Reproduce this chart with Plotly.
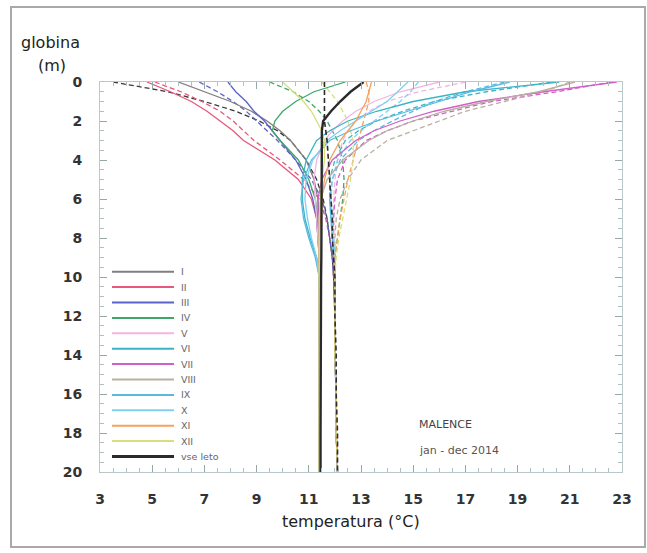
import plotly.graph_objects as go

# ---------------- data ----------------
DEPTH = [0, 0.5, 1, 1.5, 2, 2.5, 3, 4, 5, 6, 7, 8, 9, 10, 12, 14, 16, 18, 20]

MONTHS = ["I", "II", "III", "IV", "V", "VI", "VII", "VIII", "IX", "X", "XI", "XII"]
COLORS = ["#7f7f7f", "#e8587a", "#5c62c8", "#3fa868", "#f2b6e2", "#3ab5c5",
          "#d25ec8", "#b9b0a0", "#5ab9e2", "#7fd0f2", "#f5a25c", "#d6df7a"]

T_I_solid = [6.0, 7.0, 8.0, 8.8, 9.4, 9.9, 10.3, 10.9, 11.2, 11.35, 11.4, 11.4, 11.4, 11.4, 11.4, 11.4, 11.4, 11.4, 11.4]
T_I_dash = [3.5, 5.6, 7.0, 8.2, 9.1, 9.8, 10.3, 10.9, 11.3, 11.55, 11.7, 11.8, 11.9, 11.95, 12.0, 12.0, 12.05, 12.05, 12.1]
T_II_solid = [4.8, 5.7, 6.5, 7.1, 7.6, 8.1, 8.5, 9.7, 10.6, 11.1, 11.3, 11.35, 11.4, 11.4, 11.4, 11.4, 11.4, 11.4, 11.4]
T_II_dash = [5.1, 6.1, 6.9, 7.6, 8.1, 8.5, 8.9, 9.9, 10.8, 11.4, 11.65, 11.8, 11.9, 11.95, 12.0, 12.0, 12.05, 12.05, 12.1]
T_III_solid = [7.9, 8.2, 8.6, 8.9, 9.3, 9.6, 9.9, 10.5, 10.9, 11.15, 11.3, 11.35, 11.4, 11.4, 11.4, 11.4, 11.4, 11.4, 11.4]
T_III_dash = [6.8, 7.5, 8.1, 8.6, 9.0, 9.4, 9.8, 10.5, 11.1, 11.5, 11.7, 11.8, 11.9, 11.95, 12.0, 12.0, 12.05, 12.05, 12.1]
T_IV_solid = [12.4, 11.2, 10.5, 10.0, 9.7, 9.6, 9.9, 10.6, 11.0, 11.25, 11.35, 11.4, 11.4, 11.4, 11.4, 11.4, 11.4, 11.4, 11.4]
T_IV_dash = [9.5, 10.4, 11.0, 11.4, 11.7, 11.9, 12.1, 12.3, 12.35, 12.3, 12.2, 12.1, 12.0, 12.0, 12.0, 12.0, 12.05, 12.05, 12.1]
T_V_solid = [16.0, 14.5, 13.5, 12.8, 12.3, 11.9, 11.6, 11.3, 11.2, 11.25, 11.3, 11.35, 11.4, 11.4, 11.4, 11.4, 11.4, 11.4, 11.4]
T_V_dash = [17.0, 15.2, 14.0, 13.3, 12.8, 12.5, 12.3, 12.1, 12.0, 11.95, 11.95, 11.95, 11.95, 12.0, 12.0, 12.0, 12.05, 12.05, 12.1]
T_VI_solid = [20.6, 17.0, 15.0, 13.6, 12.5, 11.8, 11.3, 10.9, 10.75, 10.75, 10.85, 11.05, 11.3, 11.4, 11.4, 11.4, 11.4, 11.4, 11.4]
T_VI_dash = [20.3, 17.8, 15.8, 14.6, 13.6, 12.9, 12.4, 12.0, 11.8, 11.8, 11.85, 11.9, 11.95, 12.0, 12.0, 12.0, 12.05, 12.05, 12.1]
T_VII_solid = [22.8, 20.0, 17.5, 15.8, 14.5, 13.5, 12.8, 11.9, 11.5, 11.35, 11.35, 11.4, 11.4, 11.4, 11.4, 11.4, 11.4, 11.4, 11.4]
T_VII_dash = [22.6, 20.5, 18.0, 16.5, 15.0, 14.0, 13.2, 12.4, 12.1, 12.0, 11.95, 11.95, 11.95, 12.0, 12.0, 12.0, 12.05, 12.05, 12.1]
T_VIII_solid = [21.2, 19.8, 17.8, 16.2, 15.0, 14.0, 13.3, 12.3, 11.7, 11.45, 11.4, 11.4, 11.4, 11.4, 11.4, 11.4, 11.4, 11.4, 11.4]
T_VIII_dash = [21.0, 20.0, 18.5, 17.0, 16.0, 15.0, 14.0, 13.0, 12.5, 12.2, 12.05, 12.0, 12.0, 12.0, 12.0, 12.0, 12.05, 12.05, 12.1]
T_IX_solid = [18.7, 17.2, 16.0, 14.8, 13.6, 12.6, 11.8, 11.1, 10.8, 10.7, 10.8, 11.0, 11.25, 11.4, 11.4, 11.4, 11.4, 11.4, 11.4]
T_IX_dash = [18.5, 17.0, 15.8, 15.0, 14.2, 13.5, 12.9, 12.2, 11.9, 11.8, 11.85, 11.9, 11.95, 12.0, 12.0, 12.0, 12.05, 12.05, 12.1]
T_X_solid = [14.8, 14.4, 14.0, 13.4, 12.8, 12.2, 11.7, 11.15, 10.9, 10.85, 10.95, 11.1, 11.3, 11.4, 11.4, 11.4, 11.4, 11.4, 11.4]
T_X_dash = [15.2, 14.9, 14.5, 14.0, 13.5, 13.0, 12.6, 12.1, 11.9, 11.85, 11.9, 11.95, 12.0, 12.0, 12.0, 12.0, 12.05, 12.05, 12.1]
T_XI_solid = [13.4, 13.3, 13.2, 13.0, 12.8, 12.5, 12.2, 11.8, 11.6, 11.5, 11.45, 11.4, 11.4, 11.4, 11.4, 11.4, 11.4, 11.4, 11.4]
T_XI_dash = [13.2, 13.3, 13.3, 13.2, 13.1, 13.0, 12.9, 12.7, 12.5, 12.35, 12.2, 12.1, 12.0, 12.0, 12.0, 12.0, 12.05, 12.05, 12.1]
T_XII_solid = [10.0, 10.4, 10.8, 11.1, 11.3, 11.5, 11.6, 11.6, 11.5, 11.45, 11.4, 11.4, 11.4, 11.4, 11.4, 11.4, 11.4, 11.4, 11.4]
T_XII_dash = [11.5, 11.8, 12.1, 12.3, 12.5, 12.6, 12.7, 12.7, 12.6, 12.45, 12.3, 12.15, 12.05, 12.0, 12.0, 12.0, 12.05, 12.05, 12.1]

T_YEAR_solid = [13.1, 12.6, 12.2, 11.85, 11.55, 11.5, 11.5, 11.5, 11.5, 11.5, 11.5, 11.5, 11.48, 11.47, 11.46, 11.45, 11.45, 11.45, 11.45]
T_YEAR_dash = [11.6, 11.6, 11.6, 11.6, 11.6, 11.65, 11.7, 11.75, 11.8, 11.85, 11.9, 11.9, 11.95, 12.0, 12.0, 12.05, 12.05, 12.1, 12.1]

SOLID = [T_I_solid, T_II_solid, T_III_solid, T_IV_solid, T_V_solid, T_VI_solid,
         T_VII_solid, T_VIII_solid, T_IX_solid, T_X_solid, T_XI_solid, T_XII_solid]
DASH = [T_I_dash, T_II_dash, T_III_dash, T_IV_dash, T_V_dash, T_VI_dash,
        T_VII_dash, T_VIII_dash, T_IX_dash, T_X_dash, T_XI_dash, T_XII_dash]

YEAR_LABEL = "vse leto"
YEAR_COLOR = "#2b2b2b"
DASH_COLOR_I = "#3a3a3a"

X_TICKS = [3, 5, 7, 9, 11, 13, 15, 17, 19, 21, 23]
Y_TICKS = [0, 2, 4, 6, 8, 10, 12, 14, 16, 18, 20]

# ---------------- figure ----------------
fig = go.Figure()
DASH_STYLE = "5px,3px"

for name, col, td in zip(MONTHS, COLORS, DASH):
    dcol = DASH_COLOR_I if name == "I" else col
    fig.add_trace(go.Scatter(x=td, y=DEPTH, mode="lines", name=name + " (b)",
                             line=dict(color=dcol, width=1.3, dash=DASH_STYLE),
                             showlegend=False))
for name, col, ts in zip(MONTHS, COLORS, SOLID):
    fig.add_trace(go.Scatter(x=ts, y=DEPTH, mode="lines", name=name,
                             line=dict(color=col, width=1.3),
                             showlegend=False))

fig.add_trace(go.Scatter(x=T_YEAR_dash, y=DEPTH, mode="lines", showlegend=False,
                         line=dict(color=YEAR_COLOR, width=1.6, dash=DASH_STYLE)))
fig.add_trace(go.Scatter(x=T_YEAR_solid, y=DEPTH, mode="lines", name=YEAR_LABEL, showlegend=False,
                         line=dict(color=YEAR_COLOR, width=2.4)))

# manual compact legend (paper coordinates)
L_labels = MONTHS + [YEAR_LABEL]
L_colors = COLORS + [YEAR_COLOR]
plot_top, plot_bottom, plot_left, plot_w, plot_h = 82, 472, 100, 522, 390
shapes = []
annotations = []
for i, (lab, col) in enumerate(zip(L_labels, L_colors)):
    ypx = 271.7 + i * 15.4
    yp = (plot_bottom - ypx) / plot_h
    shapes.append(dict(type="line", xref="paper", yref="paper",
                       x0=(112 - plot_left) / plot_w, x1=(174 - plot_left) / plot_w,
                       y0=yp, y1=yp,
                       line=dict(color=col, width=3 if lab == YEAR_LABEL else 2)))
    annotations.append(dict(xref="paper", yref="paper", x=(179 - plot_left) / plot_w, y=yp,
                            text=lab, showarrow=False, xanchor="left", yanchor="middle",
                            font=dict(family="DejaVu Sans", size=9.5, color="#666")))

# outer frame
shapes.append(dict(type="rect", xref="paper", yref="paper",
                   x0=(11 - plot_left) / plot_w, x1=(645 - plot_left) / plot_w,
                   y0=(plot_bottom - 547) / plot_h, y1=(plot_bottom - 7) / plot_h,
                   line=dict(color="#a9a9a9", width=2), fillcolor="rgba(0,0,0,0)", layer="below"))

annotations += [
    dict(xref="paper", yref="paper", x=(417 - plot_left) / plot_w, y=(plot_bottom - 424) / plot_h,
         text="MALENCE", showarrow=False, xanchor="left", yanchor="middle",
         font=dict(family="DejaVu Sans", size=11, color="#444")),
    dict(xref="paper", yref="paper", x=(417 - plot_left) / plot_w, y=(plot_bottom - 450) / plot_h,
         text="jan - dec 2014", showarrow=False, xanchor="left", yanchor="middle",
         font=dict(family="DejaVu Sans", size=11, color="#555")),
    dict(xref="paper", yref="paper", x=(351 - plot_left) / plot_w, y=(plot_bottom - 521) / plot_h,
         text="temperatura (°C)", showarrow=False, xanchor="center", yanchor="middle",
         font=dict(family="DejaVu Sans", size=16, color="#222")),
    dict(xref="paper", yref="paper", x=(50 - plot_left) / plot_w, y=(plot_bottom - 43) / plot_h,
         text="globina", showarrow=False, xanchor="center", yanchor="middle",
         font=dict(family="DejaVu Sans", size=16, color="#222")),
    dict(xref="paper", yref="paper", x=(52 - plot_left) / plot_w, y=(plot_bottom - 66) / plot_h,
         text="(m)", showarrow=False, xanchor="center", yanchor="middle",
         font=dict(family="DejaVu Sans", size=16, color="#222")),
]

axis_common = dict(showgrid=False, zeroline=False, showline=True, linecolor="#b9c9c9",
                   linewidth=1, mirror="allticks", ticks="inside", ticklen=7,
                   tickcolor="#98a8a8", tickwidth=1,
                   tickfont=dict(family="DejaVu Sans", size=14, color="#333", weight="bold"))

fig.update_xaxes(range=[3, 23], tickvals=X_TICKS, ticklabelstandoff=14,
                 minor=dict(dtick=0.5, ticks="inside", ticklen=4, tickcolor="#b0c0c0"),
                 **axis_common)
fig.update_yaxes(range=[20, 0], tickvals=Y_TICKS, ticklabelstandoff=14,
                 minor=dict(dtick=0.5, ticks="inside", ticklen=4, tickcolor="#b0c0c0"),
                 **axis_common)

fig.update_layout(width=647, height=553, paper_bgcolor="white", plot_bgcolor="white",
                  margin=dict(l=100, r=25, t=82, b=81),
                  shapes=shapes, annotations=annotations, showlegend=False)

fig.write_html("out.html")
